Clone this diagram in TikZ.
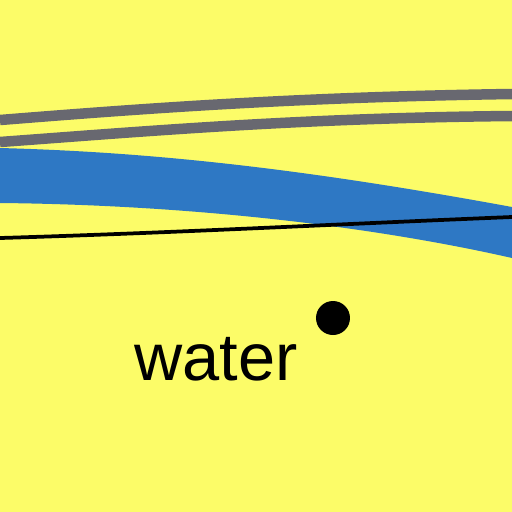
\documentclass[tikz,border=0pt]{standalone}
\usepackage{fontspec}
\setmainfont{Liberation Sans}
\definecolor{landyellow}{RGB}{252,252,104}
\definecolor{riverblue}{RGB}{46,120,196}
\definecolor{roadgray}{RGB}{104,104,112}
\begin{document}
\begin{tikzpicture}[x=0.02cm, y=-0.02cm]
    % Background land
    \fill[landyellow] (0,0) rectangle (512,512);
    \useasboundingbox (0,0) rectangle (512,512);

    % Two roads
    \draw[roadgray, line width=0.21cm] (0,120) .. controls (150,108) and (300,97) .. (512,94);
    \draw[roadgray, line width=0.21cm] (0,142) .. controls (150,131) and (300,118) .. (512,116);

    % River band
    \fill[riverblue] (0,148) .. controls (150,152) and (300,168) .. (512,207)
        -- (512,258) .. controls (380,228) and (200,205) .. (0,203) -- cycle;

    % Thin black line
    \draw[black, line width=0.075cm] (0,238) .. controls (170,233) and (340,224) .. (512,217);

    % Point and label
    \fill[black] (333,318) circle (17);
    \node[anchor=base west, inner sep=0pt, font=\fontsize{38}{38}\selectfont] (water) at (134,380) {water};
\end{tikzpicture}
\end{document}
